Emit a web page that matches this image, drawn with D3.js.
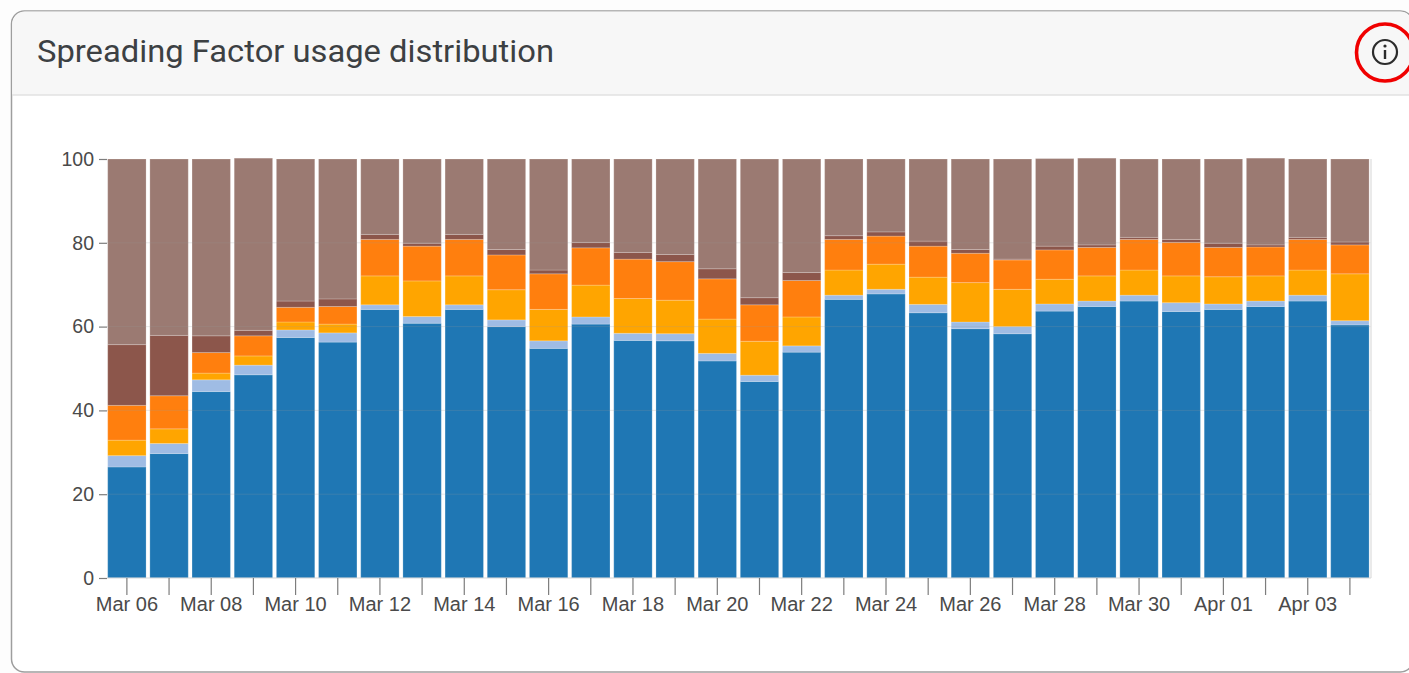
<!DOCTYPE html>
<html>
<head>
<meta charset="utf-8">
<style>
html,body{margin:0;padding:0;background:#fdfdfd;overflow:hidden}
svg{display:block}
</style>
<script src="https://cdnjs.cloudflare.com/ajax/libs/d3/7.8.5/d3.min.js"></script>
</head>
<body>
<svg id="c" width="1409" height="673"></svg>
<script>
const title = "Spreading Factor usage distribution";
const categories = ["Mar 06","Mar 07","Mar 08","Mar 09","Mar 10","Mar 11","Mar 12","Mar 13","Mar 14","Mar 15","Mar 16","Mar 17","Mar 18","Mar 19","Mar 20","Mar 21","Mar 22","Mar 23","Mar 24","Mar 25","Mar 26","Mar 27","Mar 28","Mar 29","Mar 30","Mar 31","Apr 01","Apr 02","Apr 03","Apr 04"];
const yTicks = [0,20,40,60,80,100];
const sf7  = [26.5,29.7,44.5,48.5,57.4,56.3,64.1,60.8,64.1,60.0,54.8,60.6,56.7,56.6,51.8,46.9,53.9,66.5,67.8,63.3,59.5,58.3,63.7,64.8,66.1,63.6,64.1,64.8,66.1,60.4];
const sf8  = [2.7,2.4,2.8,2.3,1.8,2.2,1.1,1.6,1.1,1.6,1.8,1.7,1.7,1.7,1.8,1.5,1.5,1.0,1.1,2.0,1.6,1.7,1.7,1.3,1.4,2.1,1.3,1.3,1.4,1.0];
const sf9  = [3.7,3.5,1.6,2.2,1.9,2.1,6.9,8.5,6.9,7.2,7.5,7.6,8.3,8.0,8.2,8.1,6.9,6.0,6.0,6.5,9.4,8.9,5.9,6.0,6.0,6.4,6.5,6.0,6.0,11.2];
const sf10 = [8.3,7.9,4.9,4.8,3.5,4.2,8.7,8.3,8.7,8.3,8.5,8.9,9.4,9.2,9.6,8.7,8.7,7.3,6.7,7.4,7.0,7.0,7.0,6.8,7.3,8.0,7.0,6.9,7.3,6.9];
const sf11 = [14.5,14.4,4.0,1.3,1.5,1.8,1.2,0.7,1.2,1.3,0.9,1.3,1.6,1.7,2.4,1.7,1.9,0.9,1.0,1.2,0.9,0.2,0.9,0.6,0.5,0.7,1.0,0.5,0.5,0.7];
const sf12 = [44.3,42.1,42.2,41.1,33.9,33.4,18.0,20.1,18.0,21.6,26.5,19.9,22.3,22.8,26.2,33.1,27.1,18.3,17.4,19.6,21.6,23.9,20.9,20.7,18.7,19.2,20.1,20.7,18.7,19.8];
const seriesNames = ["SF7","SF8","SF9","SF10","SF11","SF12"];
const seriesValues = [sf7,sf8,sf9,sf10,sf11,sf12];
const seriesColors = ["#1f77b4","#9fbce4","#ffa500","#ff7f0e","#8c564b","#9b7a72"];

const svg = d3.select("#c");
const FONT = "'Liberation Sans', Arial, sans-serif";

// card
svg.append("rect").attr("x",11.5).attr("y",11).attr("width",1402).attr("height",661).attr("rx",13)
  .attr("fill","#fff").attr("stroke","#9e9e9e").attr("stroke-width",1.5);
svg.append("path").attr("d","M12.2 95 V24 a12.5 12.5 0 0 1 12.5 -12.5 H1400 a12.5 12.5 0 0 1 12.5 12.5 V95 Z").attr("fill","#f7f7f7");
svg.append("line").attr("x1",12).attr("x2",1409).attr("y1",95).attr("y2",95).attr("stroke","#e2e2e2").attr("stroke-width",1.5);
svg.append("text").attr("x",37).attr("y",62).attr("font-family","Roboto, sans-serif").attr("font-size",32)
  .attr("fill","#3c4043").attr("textLength",517).attr("lengthAdjust","spacingAndGlyphs").text(title);

// info icon with red marker
svg.append("circle").attr("cx",1385).attr("cy",52).attr("r",12).attr("fill","none").attr("stroke","#2b2b2b").attr("stroke-width",2.2);
svg.append("circle").attr("cx",1385).attr("cy",46).attr("r",1.6).attr("fill","#2b2b2b");
svg.append("line").attr("x1",1385).attr("x2",1385).attr("y1",50).attr("y2",59).attr("stroke","#2b2b2b").attr("stroke-width",2.4);
svg.append("circle").attr("cx",1385).attr("cy",52.5).attr("r",28.5).attr("fill","none").attr("stroke","#f00000").attr("stroke-width",3.6);

// scales
const x = d3.scaleBand().domain(categories).range([105.8,1371]).paddingInner(0.09).paddingOuter(0.045);
const y = d3.scaleLinear().domain([0,100]).range([578,159]);

// stack
const rows = categories.map((c,i)=>{
  const r={cat:c};
  seriesNames.forEach((n,k)=>r[n]=seriesValues[k][i]);
  return r;
});
const stacked = d3.stack().keys(seriesNames)(rows);

svg.append("g").selectAll("g").data(stacked).join("g")
  .attr("fill",(d,i)=>seriesColors[i])
  .selectAll("rect").data(d=>d).join("rect")
  .attr("x",d=>x(d.data.cat))
  .attr("width",x.bandwidth())
  .attr("y",d=>y(d[1]))
  .attr("height",d=>y(d[0])-y(d[1]))
  .attr("stroke","#ffffff").attr("stroke-opacity",0.2).attr("stroke-width",1);

// faint gridlines
svg.append("g").selectAll("line").data(yTicks.slice(1,-1)).join("line")
  .attr("x1",107).attr("x2",1371).attr("y1",d=>y(d)).attr("y2",d=>y(d))
  .attr("stroke","#9a9a9a").attr("stroke-opacity",0.22).attr("stroke-width",1);

// plot frame
svg.append("line").attr("x1",1371).attr("x2",1371).attr("y1",159).attr("y2",578).attr("stroke","#dcdcdc").attr("stroke-width",1.2);
svg.append("line").attr("x1",107).attr("x2",1371).attr("y1",578).attr("y2",578).attr("stroke","#d8d8d8").attr("stroke-width",1.2);

// axes
const xAxis = d3.axisBottom(x).tickSize(17).tickPadding(2)
  .tickFormat((d,i)=> i%2===0 ? d : "");
const gx = svg.append("g").attr("transform","translate(0,578)").call(xAxis);
const yAxis = d3.axisLeft(y).tickValues(yTicks).tickSize(8).tickPadding(5);
const gy = svg.append("g").attr("transform","translate(107,0)").call(yAxis);
[gx,gy].forEach(g=>{
  g.select(".domain").remove();
  g.selectAll("line").attr("stroke","#7d7d7d").attr("stroke-width",1.2);
  g.selectAll("text").attr("font-family",FONT).attr("font-size",19.5).attr("fill","#4a4a4a");
});
gx.selectAll("text").attr("font-size",20);
</script>
</body>
</html>
